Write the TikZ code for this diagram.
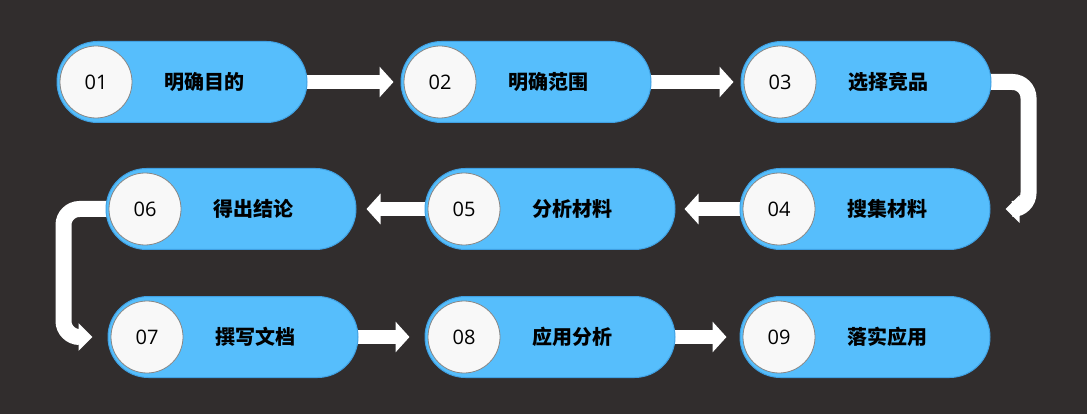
\documentclass[tikz,border=0pt]{standalone}
\usepackage{fontspec}
\setmainfont{Open Sans}
\newfontfamily\cjk{Noto Sans CJK SC}
\usetikzlibrary{shapes.misc,arrows.meta,backgrounds}
\definecolor{bg}{RGB}{49,45,45}
\definecolor{pillblue}{RGB}{86,190,252}
\definecolor{pillline}{RGB}{64,160,226}
\definecolor{discfill}{RGB}{248,248,248}
\definecolor{discline}{RGB}{135,135,135}
\begin{document}
\begin{tikzpicture}[x=1pt,y=-1pt,
  pill/.style={rounded rectangle, fill=pillblue, draw=pillline, line width=1pt,
    minimum width=250pt, minimum height=81pt, inner sep=0pt},
  disc/.style={circle, fill=discfill, draw=discline, line width=0.8pt,
    minimum size=72pt, inner sep=0pt, text=black, font=\fontsize{20}{20}\selectfont},
  lbl/.style={inner sep=0pt, text=black, font=\cjk\bfseries\fontsize{20}{20}\selectfont},
  arr/.style={draw=white, line width=14pt, -{Triangle[width=30pt,length=14pt]}},
  elb/.style={draw=white, line width=16pt, rounded corners=16pt,
    -{Triangle[width=27pt,length=14pt]}}
]
\useasboundingbox (0,0) rectangle (1087,414);
\foreach \i/\x/\y/\t in {1/182/82/明确目的, 2/526/82/明确范围, 3/866/82/选择竞品,
  4/865/209/搜集材料, 5/550/209/分析材料, 6/231/209/得出结论,
  7/233/337/撰写文档, 8/550/337/应用分析, 9/865/337/落实应用}{
  \node[pill] (p\i) at (\x,\y) {};
  \node[disc] (c\i) at ([xshift=-86pt]p\i.center) {0\i};
  \node[lbl] (t\i) at ([xshift=22pt]p\i.center) {\t};
}
\begin{pgfonlayer}{background}
  \fill[bg] (0,0) rectangle (1087,414);
  \draw[arr] ([xshift=-4pt]p1.east) -- ([xshift=-7pt]p2.west);
  \draw[arr] ([xshift=-4pt]p2.east) -- ([xshift=-7pt]p3.west);
  \draw[elb] ([xshift=-6pt]p3.east) -- ++(43,0) |- ([xshift=15pt]p4.east);
  \draw[arr] ([xshift=4pt]p4.west) -- ([xshift=9pt]p5.east);
  \draw[arr] ([xshift=4pt]p5.west) -- ([xshift=10pt]p6.east);
  \draw[elb] ([xshift=6pt]p6.west) -- ++(-48,0) |- ([xshift=-15pt]p7.west);
  \draw[arr] ([xshift=-4pt]p7.east) -- ([xshift=-15pt]p8.west);
  \draw[arr] ([xshift=-4pt]p8.east) -- ([xshift=-13pt]p9.west);
\end{pgfonlayer}
\end{tikzpicture}
\end{document}
